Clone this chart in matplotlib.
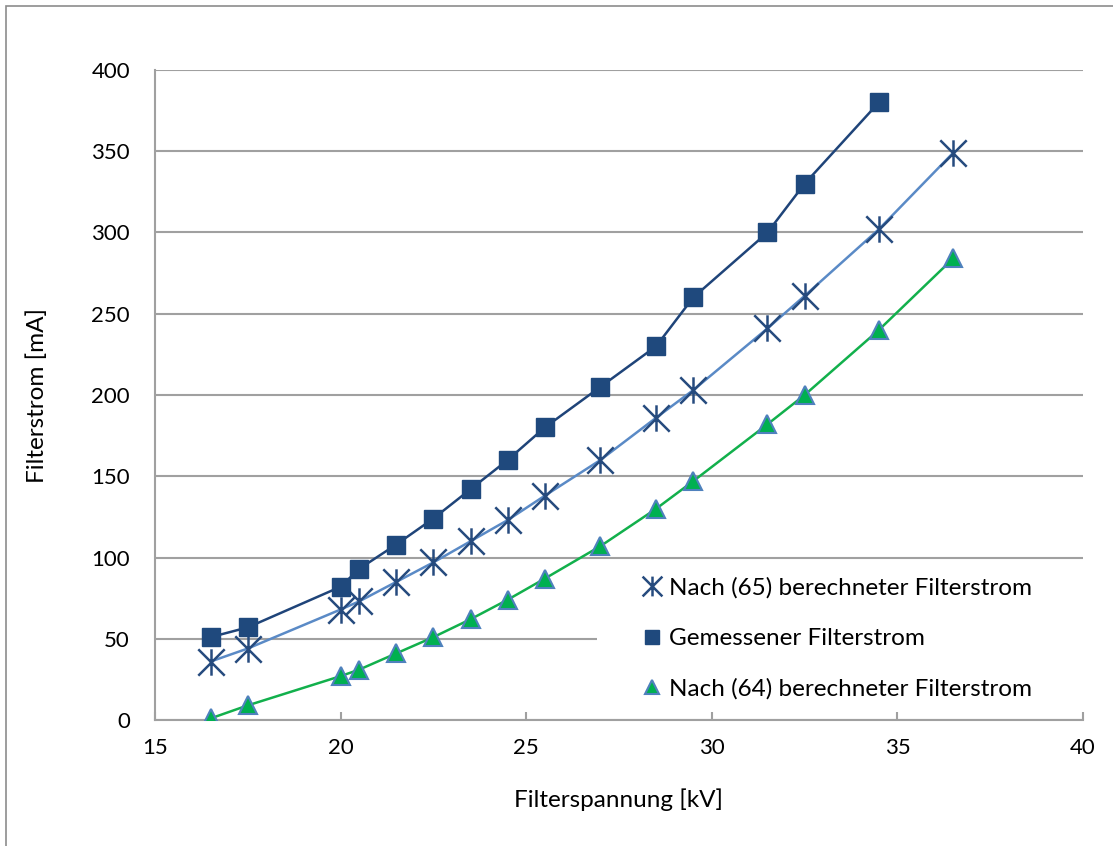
import numpy as np
import matplotlib.pyplot as plt
from matplotlib.path import Path
from matplotlib.patches import Rectangle

plt.rcParams['font.family'] = ['Lato', 'DejaVu Sans']

# Filterspannung [kV]
u_mess = [16.5, 17.5, 20, 20.5, 21.5, 22.5, 23.5, 24.5, 25.5, 27, 28.5, 29.5, 31.5, 32.5, 34.5]
u_calc = [16.5, 17.5, 20, 20.5, 21.5, 22.5, 23.5, 24.5, 25.5, 27, 28.5, 29.5, 31.5, 32.5, 34.5, 36.5]

# Filterstrom [mA]
i_65 = [36, 44, 68, 73, 85, 97, 110, 123, 138, 160, 186, 203, 241, 261, 302, 349]
i_mess = [51, 57, 82, 93, 108, 124, 142, 160, 180, 205, 230, 260, 300, 330, 380]
i_64 = [1, 9, 27, 31, 41, 51, 62, 74, 87, 107, 130, 147, 182, 200, 240, 284]

x_ticks = [15, 20, 25, 30, 35, 40]
y_ticks = [0, 50, 100, 150, 200, 250, 300, 350, 400]

# Stern wie in Excel: senkrechter Strich plus X
stern = Path([(0, -1), (0, 1), (-1, -1), (1, 1), (-1, 1), (1, -1)],
             [Path.MOVETO, Path.LINETO, Path.MOVETO, Path.LINETO, Path.MOVETO, Path.LINETO])

fig = plt.figure(figsize=(11.13, 8.46), dpi=100)
fig.patches.append(Rectangle((6 / 1113, -0.01), 1.1, 1 - 6 / 846 + 0.01, transform=fig.transFigure,
                             fill=False, edgecolor='#8c8c8c', linewidth=1.2))
ax = fig.add_axes([155 / 1113, 126 / 846, 928 / 1113, 650 / 846])

ax.plot(u_calc, i_65, color='#5a8ac6', lw=1.8, zorder=2)
ax.plot(u_calc, i_65, ls='none', marker=stern, markersize=19, markeredgecolor='#264b7e',
        markeredgewidth=1.8, zorder=3, label='Nach (65) berechneter Filterstrom')
ax.plot(u_mess, i_mess, color='#1f4479', lw=1.8, zorder=2)
ax.plot(u_mess, i_mess, ls='none', marker='s', markersize=12.5, color='#1f497d',
        markeredgecolor='#1f497d', zorder=3, label='Gemessener Filterstrom')
ax.plot(u_calc, i_64, color='#12b04c', lw=1.8, zorder=2)
ax.plot(u_calc, i_64, ls='none', marker='^', markersize=13, color='#00b050',
        markeredgecolor='#4f81bd', markeredgewidth=1.5, zorder=3,
        label='Nach (64) berechneter Filterstrom')

ax.set_xlim(15, 40)
ax.set_ylim(0, 400)
ax.set_xticks(x_ticks)
ax.set_yticks(y_ticks)
ax.yaxis.grid(True, color='#a0a0a0', lw=1.5)
ax.set_axisbelow(True)
for s in ['top', 'right']:
    ax.spines[s].set_visible(False)
for s in ['left', 'bottom']:
    ax.spines[s].set_color('#a0a0a0')
    ax.spines[s].set_linewidth(1.5)
ax.tick_params(axis='x', direction='in', length=6, width=1.5, color='#a0a0a0',
               labelsize=16, pad=13)
ax.tick_params(axis='y', length=0, labelsize=16, pad=18)

ax.set_xlabel('Filterspannung [kV]', fontsize=17.5, labelpad=22)
ax.set_ylabel('Filterstrom [mA]', fontsize=17.5, labelpad=31)

# weisser Hintergrund der Legende (verdeckt die Gitterlinie bei 50)
ax.add_patch(Rectangle((597 / 1113, 1 - 712 / 846), (1083 - 597) / 1113, 150 / 846,
                       transform=fig.transFigure, facecolor='white', edgecolor='none', zorder=1))

leg = ax.legend(loc='upper left', bbox_to_anchor=(622 / 1113, 1 - 558 / 846), bbox_transform=fig.transFigure,
                fontsize=17.5, frameon=False, handlelength=0.9, handletextpad=0.25, labelspacing=1.2,
                borderpad=0.3, markerscale=0.75)
leg.set_zorder(5)

fig.savefig('out.png', dpi=100)
